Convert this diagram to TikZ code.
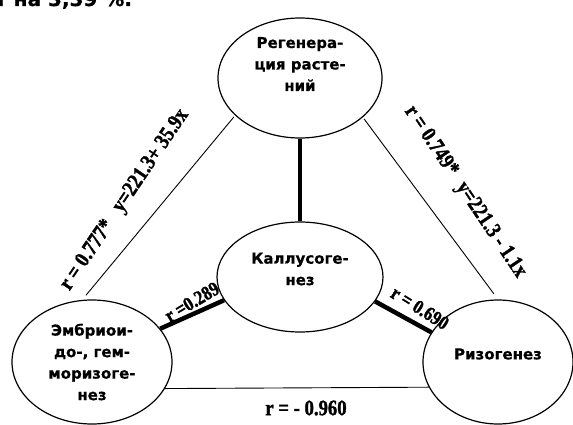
\documentclass[tikz,border=0pt]{standalone}
\usepackage{fontspec}
\usetikzlibrary{shapes.geometric}
\newfontfamily\nodefont[BoldFeatures={FakeBold=0.6}]{DejaVu Sans}
\newfontfamily\corrfont[FakeStretch=0.85, BoldFeatures={FakeBold=1.4}]{Liberation Serif}
\begin{document}
\begin{tikzpicture}[x=1pt, y=-1pt,
	blob/.style={draw, ellipse, line width=1.2pt, inner sep=0pt},
	blobtext/.style={font=\nodefont\bfseries\fontsize{15}{21.5}\selectfont, align=center, inner sep=0pt},
	weak/.style={line width=0.9pt},
	strong/.style={line width=4.5pt},
	corr/.style={font=\corrfont\bfseries\fontsize{20}{20}\selectfont, inner sep=0pt},
	bigcorr/.style={corr, font=\corrfont\bfseries\fontsize{22}{22}\selectfont}]
	\useasboundingbox (0,0) rectangle (573,425);
	\clip (0,0) rectangle (573,425);
	% cut line of the text above
	\node[anchor=base west, font=\nodefont\bfseries\fontsize{20}{20}\selectfont, inner sep=0pt] (head) at (-5,6) {т на 3,39 \%.};
	% ellipses
	\node[blob, minimum width=164pt, minimum height=120pt] (reg) at (300,78) {};
	\node[blob, minimum width=166pt, minimum height=110pt] (kal) at (300,277) {};
	\node[blob, minimum width=160pt, minimum height=124pt] (emb) at (92,362) {};
	\node[blob, minimum width=150pt, minimum height=124pt] (riz) at (498,362) {};
	\node[blobtext] (regtxt) at ([yshift=14pt]reg.center) {Регенера-\\ция расте-\\ний};
	\node[blobtext] (kaltxt) at ([yshift=8pt]kal.center) {Каллусоге-\\нез};
	\node[blobtext] (embtxt) at (emb.center) {Эмбриои-\\до-, гем-\\моризоге-\\нез};
	\node[blobtext] (riztxt) at ([yshift=8pt]riz.center) {Ризогенез};
	% connectors
	\draw[strong] (reg.south) -- (kal.north);
	\draw[weak, shorten <=2pt, shorten >=6pt] (reg.210) -- (emb.99);
	\draw[weak, shorten <=2pt, shorten >=7pt] (reg.328) -- (riz.90);
	\draw[strong] (emb.26) -- (kal.197.5);
	\draw[strong] (kal.342.6) -- (riz.156);
	\draw[weak] (emb.340) -- (riz.200);
	% correlations
	\node[bigcorr, rotate=56] (rer) at (125,200) {r = 0.777*\hspace{14pt}y=221.3+ 35.9x};
	\node[bigcorr, rotate=-56] (rrr) at (465,192) {r = 0.749*\hspace{12pt}y=221.3 - 1.1x};
	\node[corr, rotate=31] (rek) at (192,302) {r =0.289};
	\node[corr, rotate=-32] (rkr) at (420,308) {r = 0.690};
	\node[bigcorr] (rez) at (306,408) {r = - 0.960};
\end{tikzpicture}
\end{document}
